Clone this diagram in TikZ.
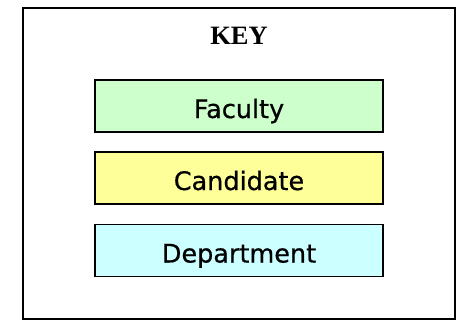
\documentclass[tikz,border=0pt]{standalone}
\usepackage{fontspec}
\setmainfont{Liberation Serif}
\newfontfamily\boxfont[FakeBold=0.6]{DejaVu Sans}
\definecolor{facgreen}{HTML}{CCFFCC}
\definecolor{candyellow}{HTML}{FFFF99}
\definecolor{depcyan}{HTML}{CCFFFF}
\begin{document}
\begin{tikzpicture}[x=1pt,y=-1pt,
  keybox/.style={draw=black,line width=1.6pt,minimum width=288pt,minimum height=52pt,inner sep=0pt,
    text height=24pt,text depth=0pt,
    font=\boxfont\fontsize{25.5}{30}\selectfont},
  frame/.style={draw=black,line width=1.7pt}]
\useasboundingbox (0,0) rectangle (460,322);
\draw[frame] (23,8) rectangle (455,319);
\node[font=\bfseries\fontsize{26.5}{30}\selectfont,anchor=base] (key) at (239,44.3) {KEY};
\node[keybox,fill=facgreen] (fac) at (239,106) {Faculty};
\node[keybox,fill=candyellow] (cand) at (239,178) {Candidate};
\node[keybox,fill=depcyan] (dep) at (239,250.5) {Department};
\end{tikzpicture}
\end{document}
